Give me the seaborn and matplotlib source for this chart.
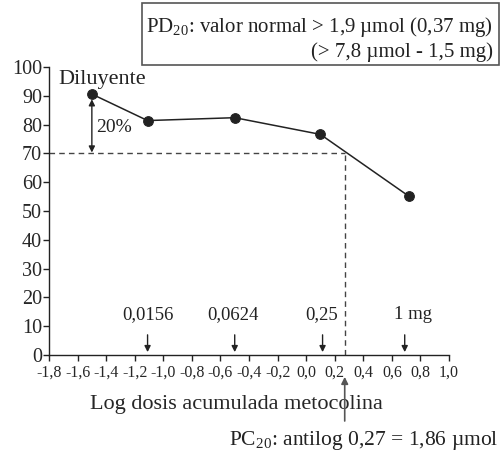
import matplotlib
matplotlib.use('Agg')
import matplotlib.pyplot as plt
import seaborn as sns
import numpy as np
import pandas as pd
from matplotlib.patches import Rectangle

# Data
log_dose = [-1.50, -1.11, -0.50, 0.10, 0.72]
fev1 = [90.6, 81.4, 82.4, 76.6, 55.1]
arrow_x = [-1.11, -0.50, 0.115, 0.69]
dose_labels = ['0,0156', '0,0624', '0,25', '1 mg']
label_x = [-1.107, -0.51, 0.108, 0.747]
pc20 = 0.27
threshold = 70
x_ticks = [-1.8, -1.6, -1.4, -1.2, -1.0, -0.8, -0.6, -0.4, -0.2, 0.0, 0.2, 0.4, 0.6, 0.8, 1.0]
y_ticks = list(range(0, 101, 10))

sns.set_style('ticks')
plt.rcParams['font.family'] = ['Liberation Serif', 'DejaVu Serif']
plt.rcParams['mathtext.fontset'] = 'custom'
plt.rcParams['mathtext.rm'] = 'Liberation Serif'
plt.rcParams['text.color'] = '#222222'

ink = '#222222'
df = pd.DataFrame({'x': log_dose, 'y': fev1})

fig = plt.figure(figsize=(5.02, 4.53), dpi=100)
ax = fig.add_axes([49 / 502, 1 - 355 / 453, 400 / 502, 288 / 453])

sns.lineplot(data=df, x='x', y='y', ax=ax, color=ink, lw=1.1,
             marker='o', markersize=7, markeredgecolor=ink)

ax.set_xlim(-1.8, 1.0)
ax.set_ylim(0, 100)
ax.set_xticks(x_ticks)
ax.set_xticklabels([f'{t:.1f}'.replace('.', ',') for t in x_ticks], fontsize=11.5)
ax.set_yticks(y_ticks)
ax.set_yticklabels([str(t) for t in y_ticks], fontsize=14.5)
ax.tick_params(axis='both', direction='out', length=4, width=1, color=ink, pad=1)
ax.tick_params(axis='x', pad=3)
sns.despine(ax=ax)
for s in ['left', 'bottom']:
    ax.spines[s].set_color(ink)
    ax.spines[s].set_linewidth(1)

ax.set_xlabel('Log dosis acumulada metocolina', fontsize=16, va='baseline')
ax.xaxis.set_label_coords(0.4675, (355 - 409) / 288)
ax.set_ylabel('')

# dashed threshold lines
ax.plot([-1.8, pc20], [threshold, threshold], ls=(0, (4, 3)), color='#444444', lw=1, clip_on=False)
ax.plot([pc20, pc20], [0, threshold], ls=(0, (4, 3)), color='#444444', lw=1)

# 20% double arrow
ax.annotate('', xy=(-1.5, 70.3), xytext=(-1.5, 88.8),
            arrowprops=dict(arrowstyle='<|-|>', color=ink, lw=1, mutation_scale=9,
                            shrinkA=0, shrinkB=0))
ax.text(-1.47, 79, '20%', fontsize=14, va='center', ha='left')
ax.text(-1.737, 95.5, 'Diluyente', fontsize=16, va='center', ha='left')

# dose arrows
for xa, lab, xl in zip(arrow_x, dose_labels, label_x):
    ax.annotate('', xy=(xa, 1.0), xytext=(xa, 7.0),
                arrowprops=dict(arrowstyle='-|>', color=ink, lw=1, mutation_scale=9,
                                shrinkA=0, shrinkB=0))
    ax.text(xl, 14.2, lab, fontsize=13.5, ha='center', va='center')

# PC20 arrow from below
ax.annotate('', xy=(pc20, -0.076), xytext=(pc20, (355 - 421) / 288),
            xycoords=('data', 'axes fraction'), textcoords=('data', 'axes fraction'),
            arrowprops=dict(arrowstyle='-|>', color='#555555', lw=1.2, mutation_scale=10,
                            shrinkA=0, shrinkB=0))
fig.text(499 / 502, 1 - 445 / 453, r'PC$_{\mathrm{20}}$: antilog 0,27 = 1,86 µmol',
         fontsize=15.5, ha='right', va='baseline')

# box top right
fig.patches.append(Rectangle((142 / 502, 1 - 65 / 453), 357 / 502, 62 / 453,
                             transform=fig.transFigure, fill=False,
                             edgecolor='#555555', lw=1.2))
fig.text(493 / 502, 1 - 32 / 453, r'PD$_{\mathrm{20}}$: valor normal > 1,9 µmol (0,37 mg)',
         fontsize=15, ha='right', va='baseline')
fig.text(493 / 502, 1 - 57 / 453, '(> 7,8 µmol - 1,5 mg)',
         fontsize=15, ha='right', va='baseline')

fig.savefig('out.png', dpi=100)
